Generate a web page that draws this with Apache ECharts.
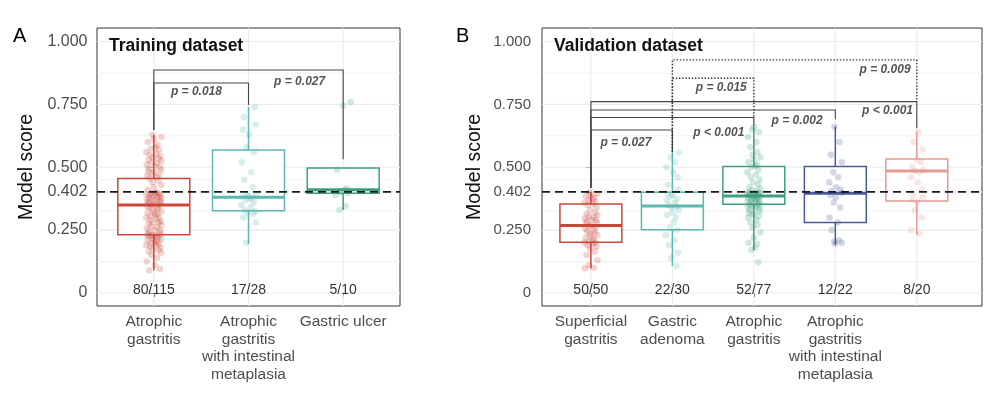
<!DOCTYPE html>
<html><head><meta charset="utf-8">
<script src="https://cdn.jsdelivr.net/npm/echarts@6/dist/echarts.min.js"></script>
<style>html,body{margin:0;padding:0;background:#fff}#c{width:1000px;height:393px}</style>
</head><body><div id="c"></div>
<script>
// ---------------- data ----------------
const CAT_A = ['Atrophic\ngastritis', 'Atrophic\ngastritis\nwith intestinal\nmetaplasia', 'Gastric ulcer'];
const CAT_B = ['Superficial\ngastritis', 'Gastric\nadenoma', 'Atrophic\ngastritis', 'Atrophic\ngastritis\nwith intestinal\nmetaplasia', 'Gastric ulcer'];
const COUNTS_A = ['80/115', '17/28', '5/10'];
const COUNTS_B = ['50/50', '22/30', '52/77', '12/22', '8/20'];
const Y_TICKS = [0, 0.25, 0.402, 0.5, 0.75, 1];
const Y_MINOR = [0.125, 0.326, 0.451, 0.625, 0.875];
const THRESHOLD = 0.402;
// box statistics: [lower whisker, q1, median, q3, upper whisker]
const BOX_A = [[0.089, 0.231, 0.350, 0.455, 0.629], [0.195, 0.327, 0.381, 0.569, 0.740], [0.330, 0.397, 0.410, 0.497, 0.497]];
const BOX_B = [[0.098, 0.202, 0.268, 0.354, 0.403], [0.107, 0.251, 0.346, 0.401, 0.562], [0.171, 0.353, 0.386, 0.503, 0.662], [0.191, 0.280, 0.397, 0.503, 0.662], [0.231, 0.366, 0.485, 0.533, 0.642]];
// individual model scores
const PTS_A0 = [0.089,0.095,0.11,0.125,0.14,0.15,0.16,0.165,0.17,0.175,0.18,0.185,0.19,0.19,0.195,0.2,0.2,0.205,0.21,0.21,0.215,0.22,0.22,0.225,0.225,0.228,0.23,0.23,0.231,
  0.235,0.24,0.245,0.25,0.25,0.255,0.26,0.265,0.27,0.275,0.28,0.28,0.285,0.29,0.295,0.3,0.3,0.305,0.31,0.315,0.32,0.32,0.325,0.33,0.335,0.34,0.34,0.345,0.35,
  0.352,0.355,0.358,0.36,0.362,0.365,0.368,0.37,0.372,0.375,0.378,0.38,0.382,0.385,0.387,0.39,0.392,0.394,0.396,0.398,0.399,0.4,
  0.41,0.42,0.43,0.44,0.448,0.455,
  0.46,0.465,0.47,0.475,0.48,0.485,0.49,0.495,0.5,0.505,0.51,0.515,0.52,0.525,0.53,0.535,0.54,0.545,0.55,0.555,0.56,0.57,0.575,0.58,0.59,0.6,0.61,0.62,0.629];
const PTS_A1 = [0.2,0.28,0.3,0.315,0.32,0.325,0.33,0.34,0.35,0.36,0.37,0.375,0.38,0.382,0.385,0.39,0.395,0.42,0.45,0.48,0.52,0.56,0.58,0.63,0.65,0.67,0.7,0.739];
const PTS_A2 = [0.33,0.345,0.39,0.398,0.4,0.41,0.415,0.49,0.745,0.76];
const PTS_B0 = [0.098,0.1,0.11,0.13,0.15,0.165,0.175,0.185,0.19,0.195,0.2,0.2,0.205,0.21,0.215,0.22,0.225,0.23,0.235,0.24,0.245,0.25,0.255,0.26,0.265,
  0.27,0.275,0.28,0.285,0.29,0.29,0.295,0.3,0.305,0.31,0.315,0.32,0.33,0.34,0.35,0.355,0.36,0.365,0.37,0.375,0.38,0.385,0.39,0.395,0.4];
const PTS_B1 = [0.107,0.14,0.16,0.19,0.21,0.23,0.25,0.26,0.28,0.3,0.31,0.32,0.33,0.34,0.345,0.35,0.36,0.37,0.375,0.385,0.39,0.395,0.41,0.43,0.46,0.48,0.5,0.52,0.54,0.56];
const PTS_B2 = [0.122,0.171,0.18,0.195,0.2,0.22,0.24,0.26,0.27,0.28,0.29,0.3,0.305,0.31,0.315,0.32,0.325,0.33,0.335,0.34,0.342,0.345,0.348,0.35,0.352,
  0.355,0.358,0.36,0.362,0.365,0.367,0.37,0.372,0.374,0.376,0.378,0.38,0.382,0.384,0.386,0.388,0.39,0.391,0.392,0.393,0.394,0.395,0.396,0.397,0.398,0.399,0.4,
  0.405,0.41,0.415,0.42,0.43,0.44,0.45,0.46,0.47,0.48,0.49,0.5,0.505,0.51,0.52,0.53,0.54,0.55,0.56,0.58,0.6,0.62,0.64,0.65,0.66];
const PTS_B3 = [0.195,0.2,0.205,0.21,0.25,0.28,0.3,0.34,0.36,0.38,0.39,0.398,0.405,0.41,0.42,0.44,0.46,0.48,0.52,0.55,0.6,0.66];
const PTS_B4 = [0.235,0.25,0.3,0.33,0.36,0.37,0.38,0.395,0.41,0.44,0.46,0.48,0.485,0.49,0.5,0.52,0.53,0.57,0.6,0.64];
// significance brackets: [from cat, to cat, bar height, left leg end, right leg end, dotted]
const BR_A = [[0, 2, 0.887, 0.648, 0.532, 0], [0, 1, 0.835, 0.648, 0.748, 0]];
const BR_B = [[0, 4, 0.761, 0.417, 0.655, 0], [0, 3, 0.728, 0.417, 0.691, 0], [0, 2, 0.698, 0.417, 0.664, 0], [0, 1, 0.648, 0.417, 0.562, 0],
  [1, 4, 0.927, 0.562, 0.761, 1], [1, 2, 0.854, 0.562, 0.698, 1]];
const PTXT_A = ['p = 0.018', 'p = 0.027'];
const PPOS_A = [[0.45, 0.799], [1.54, 0.841]];
const PTXT_B = ['p = 0.009', 'p = 0.015', 'p < 0.001', 'p = 0.002', 'p < 0.001', 'p = 0.027'];
const PPOS_B = [[3.61, 0.89], [1.60, 0.815], [3.64, 0.725], [2.53, 0.686], [1.57, 0.639], [0.43, 0.598]];
// horizontal jitter offsets (category units)
const JITTER = [-0.05,0.065,0.01,-0.075,0.035,-0.025,0.08,-0.055,0.05,-0.01,0.07,-0.04,0.025,-0.08,0.055,-0.03,0.015,0.04,-0.065,0.0,0.08,-0.015,0.045,-0.045,0.03,-0.07,0.06,-0.02,0.005,-0.06,0.075];

// ---------------- styles ----------------
const FONT = '"Liberation Sans", Arial, Helvetica, sans-serif';
const COLORS_A = ['#C8493C', '#5DB7B2', '#3F9E80'];
const COLORS_B = ['#C8493C', '#5DB7B2', '#3F9E80', '#4A5A97', '#E39C93'];
const BOX_W = 0.76;

const chart = echarts.init(document.getElementById('c'));

function xAxisFor(gi, cats, max) {
  const vals = cats.map((c, i) => i);
  return {
    type: 'value', gridIndex: gi, min: -0.6, max: max,
    axisLine: { show: false }, splitLine: { show: false },
    axisTick: { show: true, customValues: vals, length: 4, lineStyle: { color: '#333', width: 1 } },
    axisLabel: { customValues: vals, formatter: v => cats[Math.round(v)], margin: 7, color: '#4d4d4d',
      fontSize: 15.5, lineHeight: 17.5, fontFamily: FONT, align: 'center' }
  };
}
function yAxisFor(gi, fs, margin, gap) {
  return {
    type: 'value', gridIndex: gi, min: -0.052, max: 1.054,
    axisLine: { show: false }, splitLine: { show: false },
    axisTick: { show: true, customValues: Y_TICKS, length: 5, lineStyle: { color: '#333', width: 1 } },
    axisLabel: { customValues: Y_TICKS, formatter: v => (v === 0 ? '0' : v.toFixed(3)), margin: margin,
      color: '#4d4d4d', fontSize: fs, fontFamily: FONT },
    name: 'Model score', nameLocation: 'middle', nameGap: gap, nameRotate: 90,
    nameTextStyle: { fontSize: 19.5, color: '#111', fontFamily: FONT }
  };
}
function hGrid(gi) {
  const data = Y_TICKS.map(v => [0, v, 1]).concat(Y_MINOR.map(v => [0, v, 0]));
  return { type: 'custom', xAxisIndex: gi, yAxisIndex: gi, silent: true, z: 1, data: data, encode: { x: 0, y: 1 },
    renderItem: (params, api) => {
      const cs = params.coordSys; const y = api.coord([0, api.value(1)])[1];
      return { type: 'line', shape: { x1: cs.x, y1: y, x2: cs.x + cs.width, y2: y },
        style: { stroke: '#ebebeb', lineWidth: api.value(2) ? 1.1 : 0.7 } };
    } };
}
function vGrid(gi, cats) {
  return { type: 'custom', xAxisIndex: gi, yAxisIndex: gi, silent: true, z: 1, data: cats.map((c, i) => [i, 0]), encode: { x: 0, y: 1 },
    renderItem: (params, api) => {
      const cs = params.coordSys; const x = api.coord([api.value(0), 0])[0];
      return { type: 'line', shape: { x1: x, y1: cs.y, x2: x, y2: cs.y + cs.height },
        style: { stroke: '#ebebeb', lineWidth: 1.1 } };
    } };
}
function boxes(gi, stats, colors) {
  return { type: 'custom', xAxisIndex: gi, yAxisIndex: gi, silent: true, z: 2,
    data: stats.map((s, i) => [i].concat(s)), encode: { x: 0, y: [1, 2, 3, 4, 5] },
    renderItem: (params, api) => {
      const c = colors[params.dataIndex]; const x = api.value(0);
      const p = [1, 2, 3, 4, 5].map(k => api.coord([x, api.value(k)]));
      const w = api.size([BOX_W, 0])[0]; const cx = p[0][0];
      return { type: 'group', children: [
        { type: 'line', shape: { x1: cx, y1: p[0][1], x2: cx, y2: p[1][1] }, style: { stroke: c, lineWidth: 1.5 } },
        { type: 'line', shape: { x1: cx, y1: p[3][1], x2: cx, y2: p[4][1] }, style: { stroke: c, lineWidth: 1.5 } },
        { type: 'rect', shape: { x: cx - w / 2, y: p[3][1], width: w, height: p[1][1] - p[3][1] }, style: { stroke: c, lineWidth: 1.5, fill: '#fff' } },
        { type: 'line', shape: { x1: cx - w / 2, y1: p[2][1], x2: cx + w / 2, y2: p[2][1] }, style: { stroke: c, lineWidth: 3 } }
      ] };
    } };
}
function points(gi, cat, vals, color, shift) {
  return { type: 'scatter', xAxisIndex: gi, yAxisIndex: gi, silent: true, z: 3, symbolSize: 6.5,
    data: vals.map((v, i) => [cat + JITTER[(i + shift) % JITTER.length], v]),
    itemStyle: { color: color, opacity: 0.24 } };
}
function threshold(gi) {
  return { type: 'custom', xAxisIndex: gi, yAxisIndex: gi, silent: true, z: 4, data: [[0, THRESHOLD]], encode: { x: 0, y: 1 },
    renderItem: (params, api) => {
      const cs = params.coordSys; const y = api.coord([0, api.value(1)])[1];
      return { type: 'line', shape: { x1: cs.x, y1: y, x2: cs.x + cs.width, y2: y },
        style: { stroke: '#1a1a1a', lineWidth: 1.8, lineDash: [8, 5] } };
    } };
}
function brackets(gi, rows) {
  return { type: 'custom', xAxisIndex: gi, yAxisIndex: gi, silent: true, z: 5, data: rows, encode: { x: [0, 1], y: [2, 3, 4] },
    renderItem: (params, api) => {
      const x1 = api.value(0), x2 = api.value(1), yt = api.value(2);
      const pts = [api.coord([x1, api.value(3)]), api.coord([x1, yt]), api.coord([x2, yt]), api.coord([x2, api.value(4)])];
      const dotted = api.value(5) === 1;
      return { type: 'polyline', shape: { points: pts },
        style: { stroke: dotted ? '#333' : '#454545', lineWidth: dotted ? 1.4 : 1.1, fill: null, lineDash: dotted ? [1.4, 1.8] : null } };
    } };
}
function texts(gi, pos, labels, fs, weight, style, color, z) {
  return { type: 'custom', xAxisIndex: gi, yAxisIndex: gi, silent: true, z: z, data: pos, encode: { x: 0, y: 1 },
    renderItem: (params, api) => {
      const p = api.coord([api.value(0), api.value(1)]);
      return { type: 'text', x: p[0], y: p[1],
        style: { text: labels[params.dataIndex], fontSize: fs, fontWeight: weight, fontStyle: style, fontFamily: FONT,
          fill: color, align: 'center', verticalAlign: 'middle' } };
    } };
}

const series = [
  hGrid(0), vGrid(0, CAT_A), hGrid(1), vGrid(1, CAT_B),
  boxes(0, BOX_A, COLORS_A), boxes(1, BOX_B, COLORS_B),
  points(0, 0, PTS_A0, COLORS_A[0], 0), points(0, 1, PTS_A1, COLORS_A[1], 5), points(0, 2, PTS_A2, COLORS_A[2], 11),
  points(1, 0, PTS_B0, COLORS_B[0], 3), points(1, 1, PTS_B1, COLORS_B[1], 8), points(1, 2, PTS_B2, COLORS_B[2], 14),
  points(1, 3, PTS_B3, COLORS_B[3], 19), points(1, 4, PTS_B4, COLORS_B[4], 24),
  threshold(0), threshold(1),
  brackets(0, BR_A), brackets(1, BR_B),
  texts(0, PPOS_A, PTXT_A, 12, 'bold', 'italic', '#555', 6),
  texts(1, PPOS_B, PTXT_B, 12, 'bold', 'italic', '#555', 6),
  texts(0, COUNTS_A.map((c, i) => [i, 0.012]), COUNTS_A, 14, 'normal', 'normal', '#333', 6),
  texts(1, COUNTS_B.map((c, i) => [i, 0.012]), COUNTS_B, 14, 'normal', 'normal', '#333', 6)
];

chart.setOption({
  animation: false,
  backgroundColor: '#fff',
  title: [
    { text: 'A', left: 13, top: 26, padding: 0, textStyle: { fontSize: 20, fontWeight: 'normal', color: '#000', fontFamily: FONT } },
    { text: 'B', left: 456, top: 26, padding: 0, textStyle: { fontSize: 20, fontWeight: 'normal', color: '#000', fontFamily: FONT } },
    { text: 'Training dataset', left: 109, top: 37, padding: 0, textStyle: { fontSize: 17.5, fontWeight: 'bold', color: '#111', fontFamily: FONT } },
    { text: 'Validation dataset', left: 554, top: 37, padding: 0, textStyle: { fontSize: 17.5, fontWeight: 'bold', color: '#111', fontFamily: FONT } }
  ],
  grid: [
    { left: 97, top: 28, width: 303, height: 278, show: true, borderColor: '#333', borderWidth: 1, backgroundColor: 'transparent' },
    { left: 542, top: 28, width: 440, height: 278, show: true, borderColor: '#333', borderWidth: 1, backgroundColor: 'transparent' }
  ],
  xAxis: [xAxisFor(0, CAT_A, 2.6), xAxisFor(1, CAT_B, 4.8)],
  yAxis: [yAxisFor(0, 16, 9.5, 60), yAxisFor(1, 15, 11, 57)],
  series: series
});
</script>
</body></html>
